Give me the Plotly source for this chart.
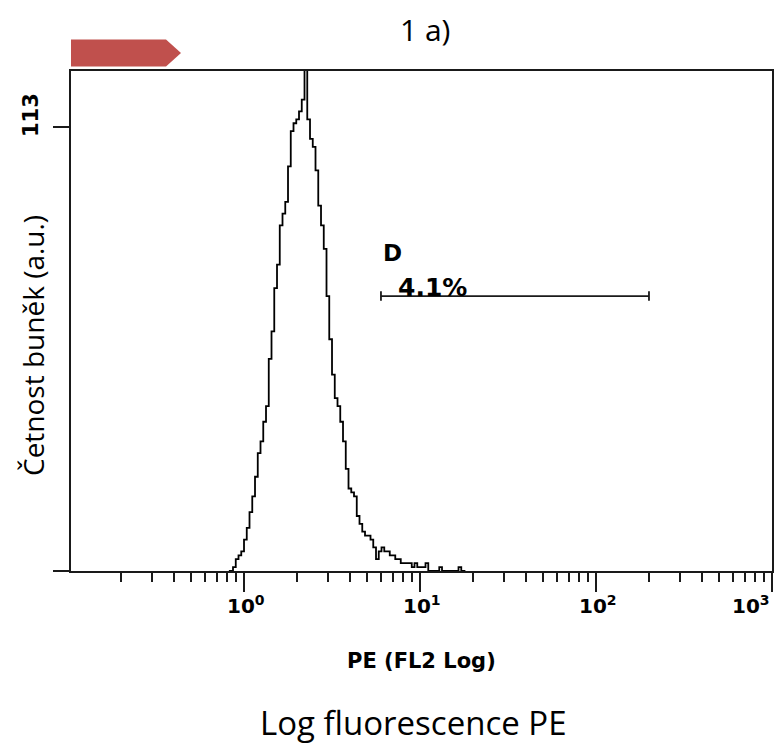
import math
import plotly.graph_objects as go

# ---- data ----
first_channel = 58           # 256-channel log scale over 4 decades (10^-1 .. 10^3)
counts = [0, 0, 1, 3, 4, 5, 8, 11, 15, 19,
          24, 30, 33, 38, 42, 54, 61, 72, 78, 88,
          91, 94, 103, 112, 114, 115, 117, 120, 130, 115,
          110, 108, 102, 93, 88, 82, 70, 59, 50, 44,
          42, 38, 33, 26, 21, 20, 19, 14, 12, 10,
          9, 9, 8, 6, 3, 5, 6, 5, 5, 4,
          4, 3, 3, 2, 2, 2, 2, 1, 2, 1,
          1, 1, 2, 0, 0, 0, 0, 1, 0, 0,
          0, 0, 0, 0, 1, 0, 0]
channels = list(range(first_channel, first_channel + len(counts)))
fluorescence = [10 ** (-1 + (c + 0.5) * 4 / 256) for c in channels]

gate_name = "D"
gate_pct = "4.1%"
gate_low, gate_high = 6, 200
gate_level = 70
gate_cap = 1.2

y_tick_vals = [0, 113]
major_ticks = [1, 10, 100, 1000]
major_labels = ["10<sup>0</sup>", "10<sup>1</sup>", "10<sup>2</sup>", "10<sup>3</sup>"]
minor_ticks = [m * d for d in (0.1, 1, 10, 100) for m in range(2, 10)]

Y_MAX = 127.3
X_RANGE = [-0.983, 3]

L, R, T, B = 71, 5, 71, 176
W, H = 777, 747
PW, PH = W - L - R, H - T - B


def px(x):
    return (x - L) / PW


def py(y):
    return (H - B - y) / PH


fig = go.Figure()

fig.add_trace(go.Scatter(
    x=fluorescence, y=counts, mode="lines",
    line=dict(color="black", width=1.8, shape="hvh"),
    hoverinfo="x+y", showlegend=False))

# gate marker
fig.add_trace(go.Scatter(
    x=[gate_low, gate_high, None, gate_low, gate_low, None, gate_high, gate_high],
    y=[gate_level, gate_level, None, gate_level - gate_cap, gate_level + gate_cap, None,
       gate_level - gate_cap, gate_level + gate_cap],
    mode="lines", line=dict(color="#1a1a1a", width=1.8),
    hoverinfo="skip", showlegend=False))

bold = dict(family="DejaVu Sans", color="black", weight="bold")

annotations = [
    dict(x=px(392), y=py(253), xref="paper", yref="paper", text=gate_name,
         showarrow=False, font=dict(size=23, **bold), xanchor="center", yanchor="middle"),
    dict(x=px(396), y=py(287), xref="paper", yref="paper", text=gate_pct,
         showarrow=False, font=dict(size=25, **bold), xanchor="left", yanchor="middle"),
    dict(x=px(31), y=py(115), xref="paper", yref="paper", text=str(y_tick_vals[1]),
         showarrow=False, textangle=-90, font=dict(size=21, **bold),
         xanchor="center", yanchor="middle"),
    dict(x=0.5, y=py(661), xref="paper", yref="paper", text="PE (FL2 Log)",
         showarrow=False, font=dict(size=21, **bold), xanchor="center", yanchor="middle"),
    dict(x=px(425), y=py(30), xref="paper", yref="paper", text="1 a)",
         showarrow=False, font=dict(family="Open Sans", size=30, color="black"),
         xanchor="center", yanchor="middle"),
    dict(x=px(413), y=py(722), xref="paper", yref="paper", text="Log fluorescence PE",
         showarrow=False, font=dict(family="Open Sans", size=33, color="black"),
         xanchor="center", yanchor="middle"),
    dict(x=px(33), y=py(346), xref="paper", yref="paper", text="Četnost buněk (a.u.)",
         showarrow=False, textangle=-90, font=dict(family="Open Sans", size=28, color="black"),
         xanchor="center", yanchor="middle"),
]
# x tick labels
for v, t in zip(major_ticks, major_labels):
    last = v == major_ticks[-1]
    annotations.append(dict(
        x=math.log10(v) + (0.0 if last else 0.01), y=py(590), xref="x", yref="paper",
        text=t, showarrow=False, font=dict(size=20, **bold),
        xanchor="right" if last else "center", yanchor="top"))
fig.update_layout(annotations=annotations)

# red arrow
fig.add_shape(type="path", xref="paper", yref="paper",
              path=f"M {px(71)},{py(39.5)} L {px(166)},{py(39.5)} L {px(181)},{py(53)} "
                   f"L {px(166)},{py(66.5)} L {px(71)},{py(66.5)} Z",
              fillcolor="#C0504D", line=dict(width=0))

fig.update_xaxes(
    type="log", range=X_RANGE, showgrid=False, zeroline=False,
    showline=True, linecolor="#1a1a1a", linewidth=2, mirror=True,
    tickmode="array", tickvals=major_ticks, ticktext=["" for _ in major_ticks],
    ticks="outside", ticklen=19, tickwidth=1.8, tickcolor="#1a1a1a",
    minor=dict(tickmode="array", tickvals=minor_ticks, ticks="outside",
               ticklen=9, tickwidth=1.8, tickcolor="#1a1a1a", showgrid=False),
    showticklabels=False, automargin=False)
fig.update_yaxes(
    range=[0, Y_MAX], showgrid=False, zeroline=False,
    showline=True, linecolor="#1a1a1a", linewidth=2, mirror=True,
    tickmode="array", tickvals=y_tick_vals, ticks="outside", ticklen=16,
    tickwidth=1.8, tickcolor="#1a1a1a", showticklabels=False, automargin=False)

fig.update_layout(
    width=W, height=H, margin=dict(l=L, r=R, t=T, b=B, pad=0),
    plot_bgcolor="white", paper_bgcolor="white", showlegend=False)

fig.write_html(
    "out.html",
    config={"displayModeBar": False},
    post_script="document.body.style.margin='0';document.body.style.overflow='hidden';")
